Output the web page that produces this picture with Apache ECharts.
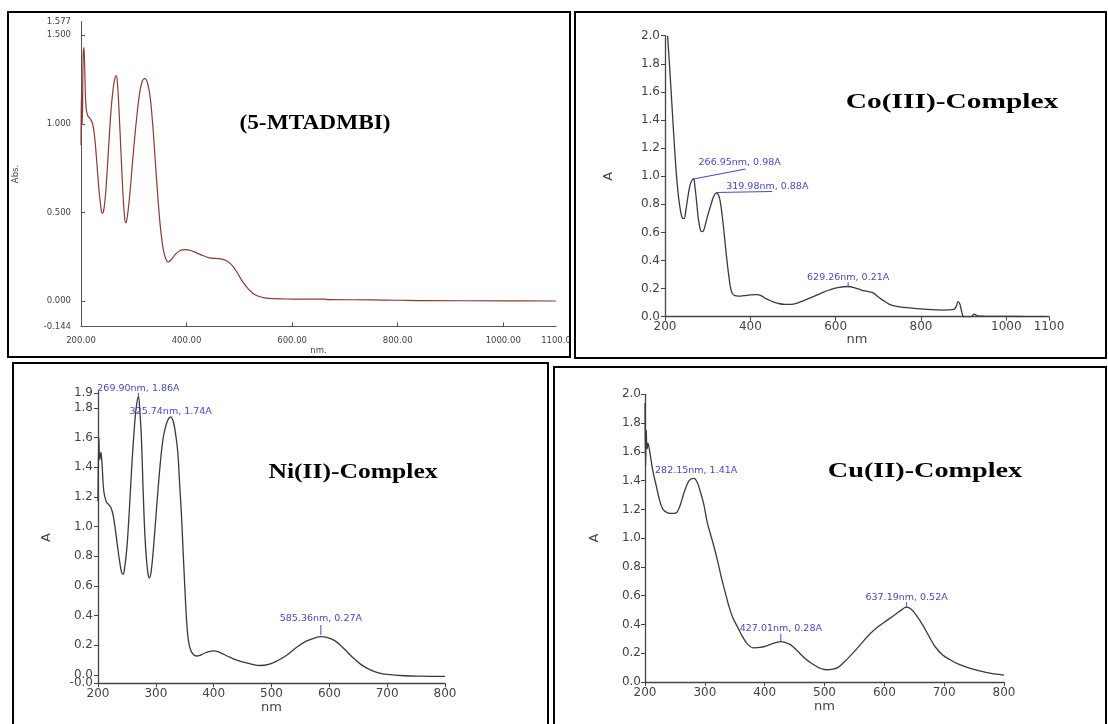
<!DOCTYPE html>
<html>
<head>
<meta charset="utf-8">
<script src="https://cdn.jsdelivr.net/npm/echarts@6/dist/echarts.min.js"></script>
<style>
html,body{margin:0;padding:0;background:#fff;}
#chart{width:1108px;height:724px;}
</style>
</head>
<body>
<div id="chart"></div>
<script>
// ---------- (5-MTADMBI) ligand ----------
const ligandNm  = [200,201,202.5,204,205.5,207,209,212,217,222,226,230,234,238,240.5,243,247,252,257,261,264.5,267,269,272,276,280,283,285,288,293,299,305,311,316,321,326,331,336,341,346,351,356,361,365,370,378,388,398,408,420,432,443,455,465,475,485,495,505,515,525,535,548,565,600,660,670,750,800,850,1000,1100];
const ligandAbs = [0.88,1.19,1.0,1.38,1.43,1.32,1.12,1.05,1.03,1.0,0.92,0.78,0.63,0.52,0.495,0.51,0.62,0.85,1.08,1.2,1.26,1.27,1.23,1.08,0.82,0.58,0.46,0.44,0.48,0.62,0.83,1.02,1.17,1.24,1.255,1.23,1.15,0.99,0.78,0.57,0.40,0.29,0.235,0.22,0.23,0.26,0.285,0.29,0.285,0.27,0.255,0.243,0.24,0.238,0.228,0.205,0.165,0.115,0.075,0.045,0.028,0.018,0.013,0.011,0.01,0.008,0.006,0.004,0.002,0.001,0.0];
const ligandXTicks  = [200,400,600,800,1000,1100];
const ligandXLabels = ['200.00','400.00','600.00','800.00','1000.00','1100.0'];
const ligandYTicks  = [-0.144,0,0.5,1.0,1.5,1.577];
const ligandYLabels = ['-0.144','0.000','0.500','1.000','1.500','1.577'];

// ---------- Co(III)-Complex ----------
const coNm  = [206,210,214,218,222,226,230,234,238,242,245,249,254,259,264,267,270,274,278,282,286,290,295,301,308,314,320,325,330,334,338,342,346,350,354,358,364,372,385,400,415,425,435,450,465,480,495,510,525,545,565,585,605,629,645,660,675,688,700,712,725,740,760,790,815,850,875,882,887,891,895,899,903,915,920,924,929,935,950,1000,1050,1092];
const coAbs = [2.0,1.82,1.62,1.42,1.22,1.04,0.9,0.8,0.73,0.70,0.70,0.76,0.86,0.94,0.975,0.98,0.93,0.82,0.70,0.63,0.605,0.61,0.66,0.73,0.80,0.855,0.88,0.87,0.81,0.72,0.61,0.49,0.38,0.28,0.2,0.165,0.15,0.147,0.15,0.155,0.157,0.15,0.13,0.11,0.095,0.088,0.088,0.097,0.115,0.14,0.166,0.19,0.207,0.215,0.205,0.19,0.18,0.17,0.14,0.115,0.09,0.075,0.067,0.058,0.052,0.047,0.05,0.07,0.107,0.09,0.04,0.0,-0.01,-0.005,0.005,0.018,0.012,0.004,0.003,0.002,0.001,0.0];
const coPeaks = [[266.95,0.98],[319.98,0.88],[629.26,0.21]];
const coXTicks  = [200,400,600,800,1000,1100];
const coXLabels = ['200','400','600','800','1000','1100'];
const coYTicks  = [0,0.2,0.4,0.6,0.8,1.0,1.2,1.4,1.6,1.8,2.0];
const coYLabels = ['0.0','0.2','0.4','0.6','0.8','1.0','1.2','1.4','1.6','1.8','2.0'];

// ---------- Ni(II)-Complex ----------
const niNm  = [200,201.5,203,205,207,210,214,218,222,226,230,234,238,241,243.5,246,250,254,258,262,266,269.9,272,275,278,281,284,287,289,292,296,300,304,308,312,316,321,325.7,330,334,338,341,344,347,350,353,356,360,365,370,376,383,392,400,408,417,428,440,452,465,480,495,510,525,543,560,575,585,597,610,625,640,655,670,685,700,730,760,800];
const niAbs = [1.17,1.6,1.45,1.5,1.42,1.24,1.17,1.15,1.13,1.08,0.98,0.86,0.75,0.69,0.68,0.72,0.86,1.1,1.38,1.62,1.8,1.88,1.8,1.6,1.25,0.95,0.77,0.67,0.655,0.7,0.86,1.06,1.26,1.44,1.58,1.66,1.72,1.74,1.71,1.63,1.5,1.3,1.1,0.85,0.6,0.38,0.24,0.17,0.138,0.128,0.132,0.145,0.158,0.162,0.156,0.14,0.12,0.1,0.086,0.073,0.064,0.072,0.096,0.13,0.185,0.228,0.25,0.258,0.252,0.23,0.178,0.12,0.07,0.036,0.015,0.004,-0.005,-0.008,-0.01];
const niPeaks = [[269.90,1.86],[325.74,1.74],[585.36,0.27]];
const niXTicks  = [200,300,400,500,600,700,800];
const niXLabels = ['200','300','400','500','600','700','800'];
const niYTicks  = [0,0.2,0.4,0.6,0.8,1.0,1.2,1.4,1.6,1.8,1.9];
const niYLabels = ['0.0','0.2','0.4','0.6','0.8','1.0','1.2','1.4','1.6','1.8','1.9'];
const niYMinTick  = [-0.056];
const niYMinLabel = ['-0.0'];

// ---------- Cu(II)-Complex ----------
const cuNm  = [200,201,202,203.5,205,208,213,219,224,230,238,245,252,258,264,270,276,282,287,292,298,304,310,316,322,328,334,340,347,355,363,372,382,392,402,412,420,427,434,443,455,467,480,492,503,512,522,532,545,560,575,590,605,620,630,637,645,655,665,675,685,697,710,725,745,770,800];
const cuAbs = [1.94,1.5,1.75,1.62,1.66,1.6,1.47,1.36,1.27,1.2,1.176,1.172,1.176,1.22,1.3,1.37,1.41,1.415,1.39,1.33,1.24,1.11,1.02,0.93,0.83,0.72,0.625,0.53,0.445,0.38,0.315,0.26,0.237,0.24,0.25,0.265,0.275,0.28,0.275,0.26,0.215,0.165,0.125,0.097,0.085,0.088,0.1,0.135,0.19,0.26,0.33,0.385,0.43,0.475,0.505,0.52,0.505,0.455,0.39,0.315,0.245,0.19,0.155,0.122,0.093,0.067,0.048];
const cuPeaks = [[282.15,1.41],[427.01,0.28],[637.19,0.52]];
const cuXTicks  = [200,300,400,500,600,700,800];
const cuXLabels = ['200','300','400','500','600','700','800'];
const cuYTicks  = [0,0.2,0.4,0.6,0.8,1.0,1.2,1.4,1.6,1.8,2.0];
const cuYLabels = ['0.0','0.2','0.4','0.6','0.8','1.0','1.2','1.4','1.6','1.8','2.0'];

// ---------- helpers ----------
const BLUE = '#4848c4';
const AXIS = '#444';
const zip = (xs, ys) => xs.slice(0, Math.min(xs.length, ys.length)).map((x, i) => [x, ys[i]]);
const labelFor = (ticks, labels) => v => {
  const i = ticks.findIndex(t => Math.abs(t - v) < 1e-6);
  return i >= 0 ? labels[i] : '';
};
const peakText = p => p[0].toFixed(2) + 'nm, ' + p[1].toFixed(2) + 'A';

function annotation(p, o) {
  const items = [];
  if (o.leader) {
    items.push({coord: p, symbol: 'rect', symbolSize: [o.leader.len, 1],
      symbolRotate: o.leader.rot, symbolOffset: [o.leader.dx, o.leader.dy],
      itemStyle: {color: BLUE}, label: {show: false}});
  }
  if (o.tick) {
    items.push({coord: p, symbol: 'rect', symbolSize: [1, o.tick],
      symbolOffset: [0, -o.tick / 2], itemStyle: {color: BLUE}, label: {show: false}});
  }
  items.push({coord: p, symbol: 'circle', symbolSize: 1,
    itemStyle: {color: 'rgba(0,0,0,0)'},
    label: {show: true, formatter: peakText(p), position: 'inside', offset: o.offset,
      align: o.align || 'center', verticalAlign: 'middle', color: BLUE,
      fontSize: 9.5, fontFamily: 'DejaVu Sans'}});
  return items;
}

function axisCfg(gi, min, max, ticks, labels, o) {
  const c = {
    type: 'value', gridIndex: gi, min: min, max: max,
    name: o.name, nameLocation: 'middle', nameGap: o.nameGap,
    nameTextStyle: {color: AXIS, fontSize: o.nameSize, fontFamily: 'DejaVu Sans'},
    axisLine: {show: o.noLine ? false : true, onZero: false, lineStyle: {color: o.lineColor || AXIS, width: o.lineWidth || 1.3}},
    axisTick: {show: true, inside: !!o.inside, length: 4, customValues: o.tickValues || ticks,
      lineStyle: {color: o.lineColor || AXIS, width: 1}},
    axisLabel: {customValues: ticks, formatter: labelFor(ticks, labels), margin: o.margin,
      hideOverlap: false, showMinLabel: true, showMaxLabel: true,
      color: AXIS, fontSize: o.fontSize, fontFamily: 'DejaVu Sans'},
    splitLine: {show: false}
  };
  if (o.position) { c.position = o.position; c.offset = 0; }
  return c;
}
function lineSeries(gi, xs, ys, color, width, marks) {
  return {
    type: 'line', xAxisIndex: gi, yAxisIndex: gi, data: zip(xs, ys),
    showSymbol: false, smooth: 0.4, clip: true,
    lineStyle: {color: color, width: width, join: 'round'},
    markPoint: marks ? {silent: true, animation: false, data: marks} : undefined
  };
}

const coMarks = [].concat(
  annotation(coPeaks[0], {offset: [5, -16], align: 'left', leader: {len: 53, rot: 11, dx: 26, dy: -5}}),
  annotation(coPeaks[1], {offset: [10, -7], align: 'left', leader: {len: 56, rot: 1, dx: 28, dy: -1}}),
  annotation(coPeaks[2], {offset: [0, -10], tick: 5})
);
const niMarks = [].concat(
  annotation(niPeaks[0], {offset: [0, -10], tick: 6}),
  annotation(niPeaks[1], {offset: [0, -5]}),
  annotation(niPeaks[2], {offset: [0, -16], tick: 10})
);
const cuMarks = [].concat(
  annotation(cuPeaks[0], {offset: [2, -9]}),
  annotation(cuPeaks[1], {offset: [0, -13], tick: 8}),
  annotation(cuPeaks[2], {offset: [0, -10], tick: 5})
);

const titleFont = {fontFamily: '"Liberation Serif", "Times New Roman", serif', fontWeight: 'bold', fill: '#000', align: 'center', verticalAlign: 'middle'};
function title(text, x, y, size, sx) {
  return {type: 'text', x: x, y: y, scaleX: sx, z: 100, style: Object.assign({text: text, fontSize: size}, titleFont)};
}
function frame(x, y, w, h) {
  return {type: 'rect', shape: {x: x, y: y, width: w, height: h}, z: 100,
    style: {fill: 'none', stroke: '#000', lineWidth: 2}};
}

const chart = echarts.init(document.getElementById('chart'), null, {renderer: 'canvas'});
chart.setOption({
  backgroundColor: '#fff',
  animation: false,
  grid: [
    {left: 81,  top: 21.5,  width: 475, height: 305},
    {left: 665, top: 35.7,  width: 384, height: 281},
    {left: 98,  top: 391.6, width: 347, height: 291.7},
    {left: 645, top: 394.3, width: 359, height: 287.7}
  ],
  xAxis: [
    axisCfg(0, 200, 1100, ligandXTicks, ligandXLabels, {name: 'nm.', nameGap: 19, nameSize: 8.5, margin: 10, fontSize: 8.5, inside: true, lineColor: '#555', lineWidth: 1, tickValues: [400,600,800,1000]}),
    axisCfg(1, 200, 1100, coXTicks, coXLabels, {name: 'nm', nameGap: 16, nameSize: 13, margin: 4, fontSize: 12}),
    axisCfg(2, 200, 800, niXTicks, niXLabels, {name: 'nm', nameGap: 17, nameSize: 13, margin: 5, fontSize: 12}),
    axisCfg(3, 200, 800, cuXTicks, cuXLabels, {name: 'nm', nameGap: 18, nameSize: 13, margin: 5, fontSize: 12})
  ],
  yAxis: [
    axisCfg(0, -0.144, 1.577, ligandYTicks, ligandYLabels, {name: 'Abs.', nameGap: 61, nameSize: 8.5, margin: 10, fontSize: 8.5, inside: true, lineColor: '#555', lineWidth: 1, tickValues: [0,0.5,1.0,1.5], position: 'left'}),
    axisCfg(1, 0, 2.0, coYTicks, coYLabels, {name: 'A', nameGap: 50, nameSize: 13, margin: 5, fontSize: 12, position: 'left'}),
    axisCfg(2, -0.056, 1.91, niYTicks, niYLabels, {name: 'A', nameGap: 45, nameSize: 13, margin: 5, fontSize: 12, position: 'left'}),
    axisCfg(3, 0, 2.0, cuYTicks, cuYLabels, {name: 'A', nameGap: 44, nameSize: 13, margin: 4, fontSize: 12, position: 'left'}),
    // second y axis on the Ni panel carrying only the "-0.0" label at the axis minimum
    axisCfg(2, -0.056, 1.91, niYMinTick, niYMinLabel, {name: '', nameGap: 0, nameSize: 13, margin: 5, fontSize: 12, noLine: true, position: 'left'})
  ],
  series: [
    lineSeries(0, ligandNm, ligandAbs, '#8c3a36', 1.2),
    lineSeries(1, coNm, coAbs, '#3a3a3a', 1.3, coMarks),
    lineSeries(2, niNm, niAbs, '#3a3a3a', 1.3, niMarks),
    lineSeries(3, cuNm, cuAbs, '#3a3a3a', 1.3, cuMarks)
  ],
  graphic: [
    frame(8, 12, 562, 345),
    frame(575, 12, 531, 346),
    frame(13, 363, 535, 370),
    frame(554, 367, 552, 366),
    title('(5-MTADMBI)', 315, 123, 22, 1.06),
    title('Co(III)-Complex', 952, 103, 21, 1.4),
    title('Ni(II)-Complex', 353, 473, 20, 1.28),
    title('Cu(II)-Complex', 925, 472, 20, 1.41)
  ]
});
</script>
</body>
</html>
